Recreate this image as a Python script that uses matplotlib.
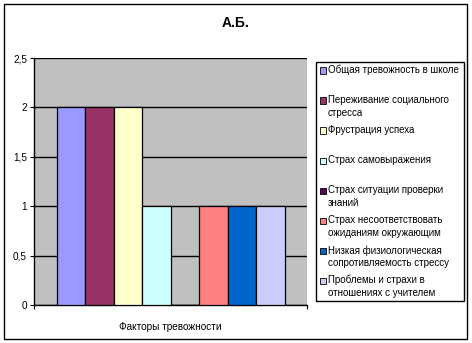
import matplotlib
matplotlib.use("Agg")
import matplotlib.pyplot as plt
from matplotlib.patches import Rectangle
from matplotlib.ticker import FuncFormatter

plt.rcParams['font.family'] = ['Liberation Sans', 'DejaVu Sans']

title = "А.Б."
category = "Факторы тревожности"
series = [
    "Общая тревожность в школе",
    "Переживание социального\nстресса",
    "Фрустрация успеха",
    "Страх самовыражения",
    "Страх ситуации проверки\nзнаний",
    "Страх несоответствовать\nожиданиям окружающим",
    "Низкая физиологическая\nсопротивляемость стрессу",
    "Проблемы и страхи в\nотношениях с учителем",
]
values = [2, 2, 2, 1, 0, 1, 1, 1]
colors = ["#9999FF", "#993366", "#FFFFCC", "#CCFFFF",
          "#660066", "#FF8080", "#0066CC", "#CCCCFF"]
yticks = [0, 0.5, 1, 1.5, 2, 2.5]

W, H = 472, 343
fig = plt.figure(figsize=(W / 100, H / 100), dpi=100)
fig.patch.set_facecolor("white")

# outer chart border
fig.add_artist(Rectangle((4 / W, 1 - 339 / H), (466.5 - 4) / W, (339 - 4) / H,
                         transform=fig.transFigure, fill=False,
                         edgecolor="black", linewidth=1.0))

ax = fig.add_axes([34 / W, 1 - 305 / H, (307 - 34) / W, (305 - 58) / H])
ax.set_facecolor("#C0C0C0")
ax.set_axisbelow(True)
ax.yaxis.grid(True, color="black", linewidth=1.0)

for i, (v, c) in enumerate(zip(values, colors)):
    ax.bar(i, v, width=1.0, color=c, edgecolor="black", linewidth=0.9, zorder=3)

ax.set_xlim(-0.5 - 0.79, len(values) - 0.5 + 0.78)
ax.set_ylim(0, 2.5)
ax.set_yticks(yticks)
ax.yaxis.set_major_formatter(FuncFormatter(lambda v, p: f"{v:g}".replace(".", ",")))
ax.tick_params(axis="y", direction="out", length=3, width=0.8, labelsize=7.2, pad=2)

lo, hi = ax.get_xlim()
ax.set_xticks([lo, hi])
ax.set_xticklabels(["", ""])
ax.tick_params(axis="x", direction="out", length=3, width=0.8)
ax.set_xlabel(category, fontsize=7.2, labelpad=6)

for s in ["top", "right"]:
    ax.spines[s].set_visible(False)
for s in ["left", "bottom"]:
    ax.spines[s].set_linewidth(1.0)

fig.text(236 / W, 1 - 23 / H, title, ha="center", va="center",
         fontsize=10, fontweight="bold")

# legend box
lx0, ly0, lx1, ly1 = 316, 62, 463.5, 301
fig.add_artist(Rectangle((lx0 / W, 1 - ly1 / H), (lx1 - lx0) / W, (ly1 - ly0) / H,
                         transform=fig.transFigure, facecolor="white",
                         edgecolor="black", linewidth=1.0))
for k, (name, c) in enumerate(zip(series, colors)):
    yc = 70.5 + 30 * k
    fig.add_artist(Rectangle((320 / W, 1 - (yc + 3) / H), 6 / W, 6 / H,
                             transform=fig.transFigure, facecolor=c,
                             edgecolor="black", linewidth=0.6))
    fig.text(328 / W, 1 - (yc - 5.5) / H, name, ha="left", va="top",
             fontsize=7.0, linespacing=1.35)

fig.savefig("out.png", dpi=100)
